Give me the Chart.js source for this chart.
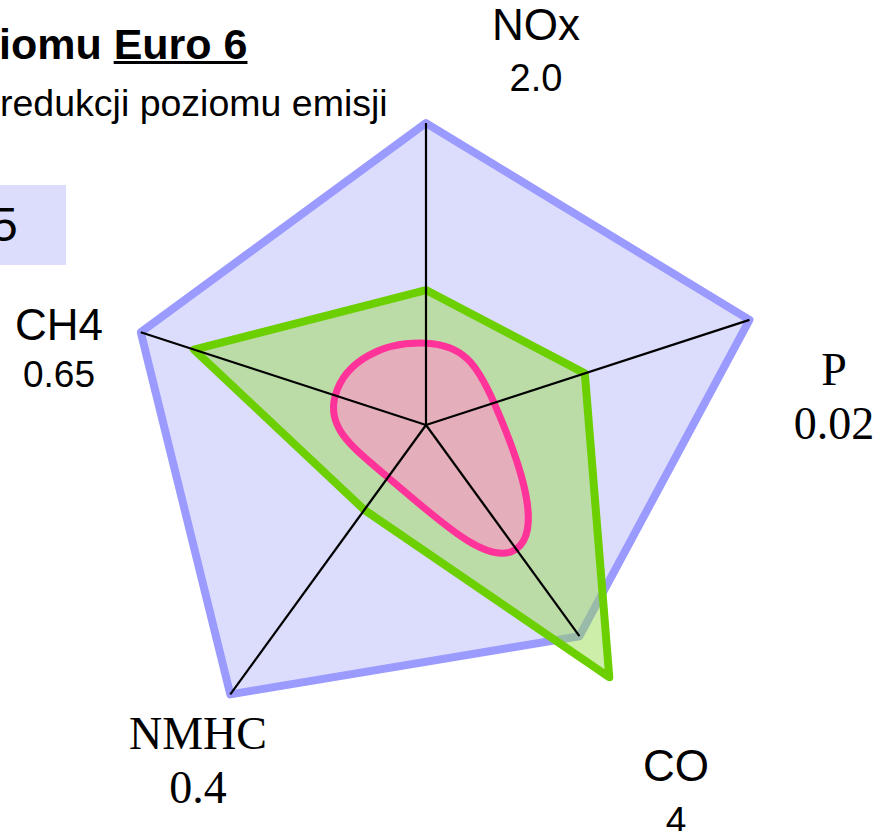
<!DOCTYPE html>
<html>
<head>
<meta charset="utf-8">
<script src="https://cdn.jsdelivr.net/npm/chart.js@4.4.0/dist/chart.umd.min.js"></script>
<style>
  html, body { margin: 0; padding: 0; background: #fff; width: 886px; height: 831px; overflow: hidden; }
  body { position: relative; font-family: "Liberation Sans", Arial, sans-serif; color: #000; }
  .abs { position: absolute; line-height: 1; white-space: nowrap; }
  .serif { font-family: "Liberation Serif", "Times New Roman", serif; }
  #title { left: -1px; top: 23px; font-size: 43px; font-weight: bold; }
  #title u { text-decoration-thickness: 3px; }
  #subtitle { left: 0; top: 85px; font-size: 37.5px; }
  #box { position: absolute; left: 0; top: 185px; width: 66px; height: 80px; background: rgb(220, 220, 252); overflow: hidden; }
  #box span { position: absolute; left: -9px; top: 16px; font-size: 48px; line-height: 1; }
  #chart { position: absolute; left: 0; top: -1px; }
</style>
</head>
<body>
<div id="title" class="abs">iomu <u>Euro 6</u></div>
<div id="subtitle" class="abs">redukcji poziomu emisji</div>
<div id="box"><span>5</span></div>
<div id="labels"></div>
<canvas id="chart" width="852" height="852"></canvas>
<script>
// Osie i limity Euro 6
const categories = ['NOx', 'P', 'CO', 'NMHC', 'CH4'];
const limitLabels = ['2.0', '0.02', '4', '0.4', '0.65'];

// Wartości (promień w skali 0-125)
const euro6Outline = [88.6, 99.8, 76.6, 97.7, 88.0];
const greenSeries = [39.6, 49.0, 91.5, 30.8, 71.6];
const pinkSeries = [24.0, 21.0, 45.0, 19.0, 28.0];

// Położenie podpisów osi
const labelLayout = [
    { x: 536, nameTop: 3, valueTop: 59, serif: false, nameSize: 44, valueSize: 38 },
    { x: 834, nameTop: 347, valueTop: 401, serif: true, nameSize: 46, valueSize: 46 },
    { x: 676, nameTop: 744, valueTop: 802, serif: false, nameSize: 44, valueSize: 37 },
    { x: 198, nameTop: 711, valueTop: 765, serif: true, nameSize: 46, valueSize: 46 },
    { x: 59, nameTop: 303, valueTop: 356, serif: false, nameSize: 44, valueSize: 37 }
];

const labelsEl = document.getElementById('labels');
categories.forEach((name, i) => {
    const l = labelLayout[i];
    [[name, l.nameTop, l.nameSize], [limitLabels[i], l.valueTop, l.valueSize]].forEach(([text, top, size]) => {
        const d = document.createElement('div');
        d.className = 'abs' + (l.serif ? ' serif' : '');
        d.textContent = text;
        d.style.left = l.x + 'px';
        d.style.top = top + 'px';
        d.style.fontSize = size + 'px';
        d.style.transform = 'translateX(-50%)';
        labelsEl.appendChild(d);
    });
});

// Czarne promienie od środka do wierzchołków pięciokąta
const spokes = {
    id: 'spokes',
    afterDatasetsDraw(chart) {
        const r = chart.scales.r;
        const pts = chart.getDatasetMeta(0).data;
        const ctx = chart.ctx;
        ctx.save();
        ctx.strokeStyle = '#000';
        ctx.lineWidth = 2.2;
        pts.forEach(p => {
            ctx.beginPath();
            ctx.moveTo(r.xCenter, r.yCenter);
            ctx.lineTo(p.x, p.y);
            ctx.stroke();
        });
        ctx.restore();
    }
};

new Chart(document.getElementById('chart').getContext('2d'), {
    type: 'radar',
    data: {
        labels: categories,
        datasets: [{
            label: 'Euro 6',
            data: euro6Outline,
            order: 3,
            borderColor: '#9a9aff',
            backgroundColor: 'rgb(220, 220, 252)',
            borderWidth: 8,
            borderJoinStyle: 'round',
            fill: true
        }, {
            label: 'green',
            data: greenSeries,
            order: 2,
            borderColor: '#6ccf00',
            backgroundColor: 'rgba(152, 220, 80, 0.49)',
            borderWidth: 8,
            borderJoinStyle: 'round',
            fill: true
        }, {
            label: 'pink',
            data: pinkSeries,
            order: 1,
            borderColor: '#ff3399',
            backgroundColor: 'rgba(255, 145, 200, 0.6)',
            borderWidth: 7,
            tension: 0.5,
            fill: true
        }]
    },
    options: {
        responsive: false,
        animation: false,
        layout: { padding: 0 },
        elements: { point: { radius: 0, hoverRadius: 0 } },
        plugins: {
            legend: { display: false },
            tooltip: { enabled: false }
        },
        scales: {
            r: {
                min: 0,
                max: 125,
                startAngle: 0,
                grid: { display: false },
                angleLines: { display: false },
                pointLabels: { display: false },
                ticks: { display: false }
            }
        }
    },
    plugins: [spokes]
});
</script>
</body>
</html>
